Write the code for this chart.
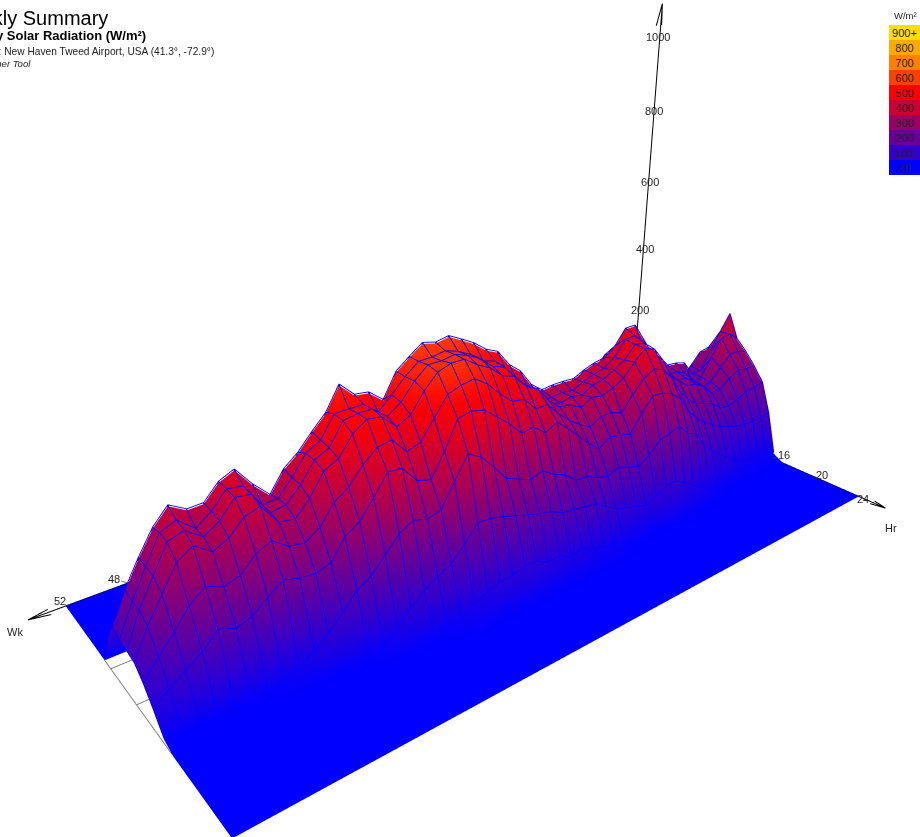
import numpy as np, plotly.graph_objects as go

W, H = 920, 837
weeks = list(range(1, 53))
hours = list(range(0, 25))

# Solar radiation (W/m2), one list per hour, weeks 1..52
H5 = [0]*21 + [5,8,10,15,20,25,30,30,30,25,20,15,10] + [0]*18
H6 = [0]*12 + [5,10,15,20,25,30,35,40,45,50,55,65,75,85,90,95,100,100,95,90,85,70,55,45,30,20,10] + [0]*13
H7 = [0,0,0,0,0,5,10,15,20,30,45,65,85,100,105,110,115,120,125,130,135,140,150,165,175,190,200,210,215,215,215,210,200,185,170,170,160,150,120,100,75,55,40,35,25,15,10,5,0,0,0,0]
H8 = [130,150,150,130,115,110,125,135,140,155,170,200,225,230,210,200,200,195,190,195,195,200,215,235,255,280,290,305,315,320,320,315,300,280,265,275,270,265,235,220,190,165,160,185,180,155,140,145,125,90,70,50]
H9 = [225,245,240,210,180,170,195,205,210,230,250,285,320,320,290,275,270,260,255,255,255,255,275,300,325,355,365,385,395,405,400,395,380,355,335,350,350,350,315,300,265,240,240,280,285,255,240,260,240,190,150,95]
H10 = [339,297,251,205,207,244,252,255,284,305,347,389,389,353,332,327,318,305,307,307,304,326,366,389,427,440,462,478,493,487,494,473,450,399,424,428,458,409,379,346,322,279,312,354,340,308,307,327,294,246,193,128]
H11 = [280,300,295,253,207,201,234,247,247,276,297,338,379,378,342,323,317,307,295,299,296,297,326,359,387,423,432,454,469,478,473,472,449,420,393,418,418,417,373,356,317,284,282,333,338,305,282,311,298,243,185,120]
H12 = [255,262,262,235,205,198,225,240,245,270,295,330,370,375,345,330,315,310,295,300,295,300,330,360,385,420,430,455,470,480,475,475,450,415,395,420,420,415,370,355,315,285,280,330,335,300,280,305,295,240,185,115]
H13 = [225,225,230,215,195,195,220,235,240,260,285,330,365,375,350,320,305,295,300,285,300,305,330,365,380,410,420,445,460,480,480,470,440,400,385,415,420,400,360,345,300,270,275,320,310,280,265,290,270,220,170,110]
H14 = [190,185,180,170,160,165,185,195,205,225,255,295,325,335,320,290,255,265,265,250,265,285,310,340,340,370,375,400,430,450,445,435,395,355,345,380,375,350,315,295,255,235,240,265,250,220,210,225,200,160,125,85]
H15 = [115,112,110,112,117,126,136,150,166,187,215,254,276,287,289,256,215,221,228,209,232,259,286,312,297,320,316,346,371,395,402,396,337,288,297,334,337,295,257,238,195,186,190,199,178,152,141,155,122,100,80,50]
H16 = [15,20,25,30,33,48,64,82,103,128,166,179,206,198,190,163,147,155,166,154,162,176,178,202,214,233,224,236,249,285,317,335,286,237,228,238,221,188,156,138,104,72,47,28,12,5,5,5,5,5,5,10]
H17 = [0,0,0,0,4,2,0,6,13,24,40,56,74,89,88,74,60,70,78,87,105,123,128,133,137,152,159,168,178,188,196,199,164,132,116,99,73,43,18,5] + [0]*12
H18 = [0]*19 + [17,23,30,36,53,46,61,59,75,76,67,66,55,42,20,7,3] + [0]*16
hour_rows = {5:H5,6:H6,7:H7,8:H8,9:H9,10:H10,11:H11,12:H12,13:H13,14:H14,15:H15,16:H16,17:H17,18:H18}

legend_labels = ['<0','100','200','300','400','500','600','700','800','900+']
legend_colors = ['#0000FF','#3300CC','#660099','#990066','#CC0033','#FF0000','#FF4000','#FF8000','#FFAA00','#FFDD00']
z_ticks = [200,400,600,800,1000]
z_tick_shift = [(3,22),(3,15),(2,9),(0,2),(-2,-7)]
wk_ticks = [(52,-6,-5),(48,-14,-4)]
hr_ticks = [(16,11,-4),(20,8,-2),(24,5,3)]

Z = np.zeros((len(hours), len(weeks)))
for h, row in hour_rows.items():
    Z[h] = row
nh, nw = Z.shape
xx, yy = np.meshgrid(weeks, hours)
idx = np.arange(nh*nw).reshape(nh, nw)
a, b, c, d = idx[:-1,:-1].ravel(), idx[:-1,1:].ravel(), idx[1:,1:].ravel(), idx[1:,:-1].ravel()

fig = go.Figure()
# flat blue floor below the evening hours, so the surface has no gaps there
fig.add_trace(go.Mesh3d(x=[1,52,52,1], y=[16.5,17,24,24], z=[-1,-1,-1,-1], i=[0,0], j=[1,2], k=[2,3], color='#0000FF',
    hoverinfo='skip', lighting=dict(ambient=1, diffuse=0, specular=0, roughness=1, fresnel=0)))
fig.add_trace(go.Mesh3d(x=xx.ravel(), y=yy.ravel(), z=Z.ravel(), i=np.r_[a,a], j=np.r_[b,c], k=np.r_[c,d],
    intensity=Z.ravel(), cmin=0, cmax=750, colorscale=[[k/9, col] for k, col in enumerate(legend_colors)],
    showscale=False, hoverinfo='skip', flatshading=False, lighting=dict(ambient=1, diffuse=0, specular=0, roughness=1, fresnel=0)))

# wire lines along both grid directions, only where the surface is off the floor
lx, ly, lz = [], [], []
def add_segments(xs, ys, zs):
    for s in range(len(zs)-1):
        if zs[s] > 0 and zs[s+1] > 0:
            lx.extend([xs[s], xs[s+1], None]); ly.extend([ys[s], ys[s+1], None]); lz.extend([zs[s]+3, zs[s+1]+3, None])
for j, wk in enumerate(weeks):
    add_segments([wk]*nh, hours, Z[:,j])
for i, hr in enumerate(hours):
    add_segments(weeks, [hr]*nw, Z[i])
fig.add_trace(go.Scatter3d(x=lx, y=ly, z=lz, mode='lines', line=dict(color='#0000FF', width=1.8), hoverinfo='skip', showlegend=False))

# floor lines under the open edge
fig.add_trace(go.Scatter3d(x=[52,52,None,52,1,None,52,1], y=[7,17,None,8,8,None,12,12], z=[0,0,None,0,0,None,0,0], mode='lines',
    line=dict(color='#808080', width=2), hoverinfo='skip', showlegend=False))
# axes with arrow heads
fig.add_trace(go.Scatter3d(
    x=[1,1,None,1.5,1,0.9,None, 1,54.3,None,53,54.3,53,None, 1,1,None,0.7,1,1.3],
    y=[0,0,None,0,0,0,None, 0,0,None,0.35,0,-0.35,None, 0,26.3,None,25.2,26.3,25.2],
    z=[0,1060,None,1010,1060,1010,None, 0,0,None,0,0,0,None, 0,0,None,0,0,0],
    mode='lines', line=dict(color='black', width=2), hoverinfo='skip', showlegend=False))

tick_font = dict(family='Liberation Sans', size=11, color='#222222')
ann3d = []
for t, (sx, sy) in zip(z_ticks, z_tick_shift):
    ann3d.append(dict(x=1, y=0, z=t, text=str(t), showarrow=False, xshift=sx, yshift=sy, font=tick_font))
for wk, ax_, ay_ in wk_ticks:
    ann3d.append(dict(x=wk, y=0, z=0, text=str(wk), showarrow=True, arrowhead=0, arrowwidth=0.7, arrowcolor='#444444', ax=ax_, ay=ay_, font=tick_font))
for hr, ax_, ay_ in hr_ticks:
    ann3d.append(dict(x=1, y=hr, z=0, text=str(hr), showarrow=True, arrowhead=0, arrowwidth=0.7, arrowcolor='#444444', ax=ax_, ay=ay_, font=tick_font))

def txt(t, right, cy, size, color='#000000'):
    return dict(text=t, x=right/W, y=1-cy/H, xref='paper', yref='paper', xanchor='right', yanchor='middle', showarrow=False, font=dict(family='Liberation Sans', size=size, color=color))
def ctr(t, cx, cy, size):
    return dict(text=t, x=cx/W, y=1-cy/H, xref='paper', yref='paper', xanchor='center', yanchor='middle', showarrow=False, font=dict(family='Liberation Sans', size=size, color='#222222'))
anns = [txt('Weekly Summary',110,18,20), txt('<b>Hourly Solar Radiation (W/m²)</b>',148,36,13),
        txt('Location: New Haven Tweed Airport, USA (41.3°, -72.9°)',216,51,10.2,'#222222'),
        txt('<i>Ecotect Weather Tool</i>',33,63,9.5,'#222222'),
        ctr('W/m²',905,16,9.5), ctr('Wk',15,632,11), ctr('Hr',891,528,11)]

fig.add_trace(go.Bar(y=legend_labels, x=[1]*10, orientation='h', marker=dict(color=legend_colors, line=dict(width=0)), width=1,
    text=legend_labels, textposition='inside', insidetextanchor='middle', textangle=0, constraintext='none',
    textfont=dict(family='Liberation Sans', size=11, color='#222222'), hoverinfo='skip', xaxis='x', yaxis='y', showlegend=False))

fig.update_layout(width=W, height=H, margin=dict(l=0,r=0,t=0,b=0), paper_bgcolor='white', plot_bgcolor='white', showlegend=False,
    xaxis=dict(domain=[889/W,1], visible=False, range=[0,1], fixedrange=True),
    yaxis=dict(domain=[1-175/H,1-25/H], visible=False, fixedrange=True, type='category', categoryorder='array', categoryarray=legend_labels),
    annotations=anns,
    scene=dict(domain=dict(x=[0,1],y=[0,1]), xaxis=dict(visible=False,range=[0,56]), yaxis=dict(visible=False,range=[-1,27]), zaxis=dict(visible=False,range=[-5,1100]),
        aspectmode='manual', aspectratio=dict(x=1,y=0.4762,z=0.6133), annotations=ann3d,
        camera=dict(eye=dict(x=0.6499,y=0.7811,z=0.3710), center=dict(x=0.0557,y=0.0175,z=-0.0931), up=dict(x=-0.2684,y=-0.3391,z=0.9017))))
fig.write_html("out.html", config=dict(displayModeBar=False), post_script="document.body.style.margin='0';")
